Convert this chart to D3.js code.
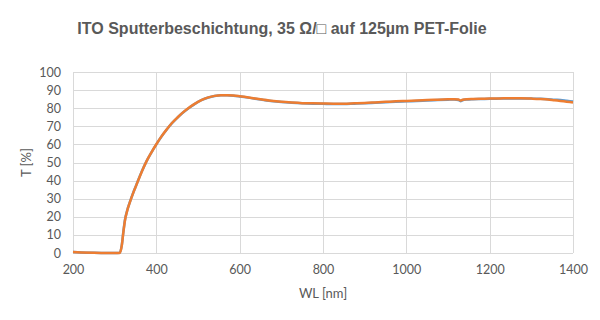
<!DOCTYPE html>
<html>
<head>
<meta charset="utf-8">
<script src="https://cdn.jsdelivr.net/npm/d3@7"></script>
<style>
  body { margin: 0; background: #fff; }
  svg { display: block; }
</style>
</head>
<body>
<svg id="chart"></svg>
<script>
// wavelength [nm] and transmission [%] for the two measured samples
var wavelengths = [200, 220, 250, 280, 300, 312, 317, 321, 325, 330, 336, 345, 352, 365, 376, 388, 400, 412, 425, 437, 450, 462, 475, 490, 508, 525, 540, 555, 570, 585, 600, 625, 650, 675, 700, 725, 750, 775, 800, 825, 850, 875, 900, 925, 950, 975, 1000, 1025, 1050, 1075, 1100, 1115, 1125, 1130, 1135, 1145, 1160, 1180, 1200, 1225, 1250, 1275, 1300, 1320, 1340, 1355, 1370, 1385, 1400];
var seriesA = [0.6, 0.3, 0.1, 0.0, 0.0, 0.1, 4.2, 12.0, 18.6, 23.5, 27.8, 33.6, 37.6, 45.0, 50.5, 55.5, 60.0, 64.2, 68.2, 71.6, 74.6, 77.2, 79.6, 82.0, 84.4, 85.9, 86.7, 87.1, 87.1, 86.9, 86.5, 85.7, 84.8, 84.0, 83.4, 83.0, 82.7, 82.5, 82.4, 82.3, 82.3, 82.5, 82.7, 83.0, 83.3, 83.6, 83.8, 84.0, 84.3, 84.5, 84.7, 84.8, 84.5, 83.9, 84.4, 84.8, 85.0, 85.1, 85.2, 85.3, 85.4, 85.4, 85.3, 85.2, 85.0, 84.7, 84.5, 84.1, 83.7];
var seriesB = [0.5, 0.3, 0.1, 0.0, 0.0, 0.0, 4.0, 11.7, 18.4, 23.3, 27.7, 33.5, 37.5, 44.9, 50.5, 55.5, 60.1, 64.3, 68.3, 71.7, 74.7, 77.3, 79.7, 82.1, 84.5, 86.0, 86.8, 87.2, 87.2, 87.0, 86.6, 85.8, 84.9, 84.1, 83.5, 83.1, 82.8, 82.7, 82.6, 82.5, 82.5, 82.7, 82.9, 83.2, 83.5, 83.8, 84.0, 84.2, 84.5, 84.7, 84.9, 85.0, 84.8, 84.2, 84.7, 85.0, 85.1, 85.2, 85.3, 85.4, 85.5, 85.5, 85.3, 85.1, 84.8, 84.4, 84.0, 83.6, 83.2];
var xTicks = [200, 400, 600, 800, 1000, 1200, 1400];
var yTicks = [0, 10, 20, 30, 40, 50, 60, 70, 80, 90, 100];

var svgWidth = 600, svgHeight = 320;
var plotLeft = 73, plotRight = 573, plotTop = 72, plotBottom = 253;
var grey = "#595959";

var svg = d3.select("#chart")
  .attr("width", svgWidth)
  .attr("height", svgHeight);

var xScale = d3.scaleLinear()
  .domain([200, 1400])
  .range([plotLeft, plotRight]);

var yScale = d3.scaleLinear()
  .domain([0, 100])
  .range([plotBottom, plotTop]);

// gridlines
svg.append("g")
  .selectAll("line")
  .data(yTicks)
  .enter()
  .append("line")
  .attr("x1", plotLeft)
  .attr("x2", plotRight)
  .attr("y1", function (d) { return Math.round(yScale(d)) + 0.5; })
  .attr("y2", function (d) { return Math.round(yScale(d)) + 0.5; })
  .attr("stroke", "#d9d9d9")
  .attr("stroke-width", 1);

svg.append("g")
  .selectAll("line")
  .data(xTicks)
  .enter()
  .append("line")
  .attr("x1", function (d) { return Math.round(xScale(d)) + 0.5; })
  .attr("x2", function (d) { return Math.round(xScale(d)) + 0.5; })
  .attr("y1", plotTop)
  .attr("y2", plotBottom)
  .attr("stroke", "#d9d9d9")
  .attr("stroke-width", 1);

// axes (labels only)
var x_axis = d3.axisBottom(xScale)
  .tickValues(xTicks)
  .tickFormat(d3.format("d"))
  .tickSize(0)
  .tickPadding(12);

var y_axis = d3.axisLeft(yScale)
  .tickValues(yTicks)
  .tickFormat(d3.format("d"))
  .tickSize(0)
  .tickPadding(12);

var gx = svg.append("g")
  .attr("transform", "translate(0," + plotBottom + ")")
  .call(x_axis);

var gy = svg.append("g")
  .attr("transform", "translate(" + plotLeft + ",0)")
  .call(y_axis);

[gx, gy].forEach(function (g) {
  g.select(".domain").remove();
  g.selectAll("text")
    .attr("fill", grey)
    .style("font-family", "Lato, 'Open Sans', sans-serif")
    .style("font-size", "12.5px");
});

// lines
var line = function (values) {
  return d3.line()
    .x(function (d, i) { return xScale(wavelengths[i]); })
    .y(function (d) { return yScale(d); })
    .curve(d3.curveMonotoneX)(values);
};

svg.append("path")
  .attr("d", line(seriesA))
  .attr("fill", "none")
  .attr("stroke", "#5b9bd5")
  .attr("stroke-width", 2.5);

svg.append("path")
  .attr("d", line(seriesB))
  .attr("fill", "none")
  .attr("stroke", "#ed7d31")
  .attr("stroke-width", 2.5);

// titles
svg.append("text")
  .text("ITO Sputterbeschichtung, 35 Ω/□ auf 125µm PET-Folie")
  .attr("x", 282)
  .attr("y", 34)
  .attr("text-anchor", "middle")
  .attr("fill", grey)
  .style("font-family", "'Liberation Sans', Arial, sans-serif")
  .style("font-weight", "bold")
  .style("font-size", "16px");

svg.append("text")
  .text("WL [nm]")
  .attr("x", (plotLeft + plotRight) / 2)
  .attr("y", 298)
  .attr("text-anchor", "middle")
  .attr("fill", grey)
  .style("font-family", "Lato, 'Open Sans', sans-serif")
  .style("font-size", "13px");

svg.append("text")
  .text("T [%]")
  .attr("transform", "translate(31," + (plotTop + plotBottom) / 2 + ") rotate(-90)")
  .attr("text-anchor", "middle")
  .attr("fill", grey)
  .style("font-family", "Lato, 'Open Sans', sans-serif")
  .style("font-size", "13px");
</script>
</body>
</html>
